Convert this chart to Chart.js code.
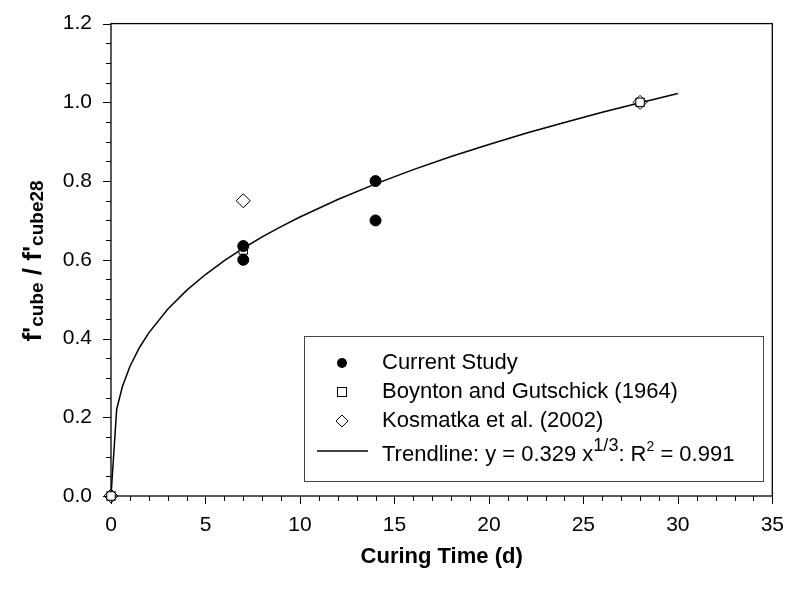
<!DOCTYPE html>
<html>
<head>
<meta charset="utf-8">
<script src="https://cdn.jsdelivr.net/npm/chart.js@4/dist/chart.umd.min.js"></script>
<style>
  html, body { margin: 0; padding: 0; background: #fff; }
  #wrap { width: 793px; height: 589px; }
</style>
</head>
<body>
<div id="wrap"><canvas id="strengthChart" width="793" height="589"></canvas></div>
<script>
// measured strength ratios
const currentX = [7, 7, 14, 14];
const currentY = [0.60, 0.635, 0.80, 0.70];
const boyntonX = [0, 7, 28];
const boyntonY = [0, 0.625, 1.0];
const kosmatkaX = [0, 7, 28];
const kosmatkaY = [0, 0.75, 1.0];

// trendline y = a * x^(1/3)
const trendCoef = 0.329;
const trendR2 = 0.991;
const trendX = [0, 0.3, 0.6, 1, 1.5, 2, 3, 4, 5, 6, 7, 8, 9, 10, 12, 14, 16, 18, 20, 22, 24, 26, 28, 30];

const legendNames = ['Current Study', 'Boynton and Gutschick (1964)', 'Kosmatka et al. (2002)'];

const FONT = '"Liberation Sans", Arial, sans-serif';

function pairs(xs, ys) {
    return xs.map((x, i) => ({ x: x, y: ys[i] }));
}

// frame, tick marks, axis titles and legend box
const decorations = {
    id: 'decorations',
    beforeDatasetsDraw(chart) {
        const ctx = chart.ctx;
        const a = chart.chartArea;
        const xs = chart.scales.x;
        const ys = chart.scales.y;
        ctx.save();
        ctx.strokeStyle = '#000';
        ctx.lineWidth = 1.3;
        ctx.strokeRect(a.left, a.top, a.right - a.left, a.bottom - a.top);

        ctx.lineWidth = 1;
        ctx.beginPath();
        for (let i = 0; i <= 35; i++) {
            const px = Math.round(xs.getPixelForValue(i)) + 0.5;
            const len = i % 5 === 0 ? 8 : 5;
            ctx.moveTo(px, a.bottom);
            ctx.lineTo(px, a.bottom + len);
        }
        for (let i = 0; i <= 24; i++) {
            const py = Math.round(ys.getPixelForValue(i * 0.05)) + 0.5;
            const len = i % 4 === 0 ? 8 : 5;
            ctx.moveTo(a.left, py);
            ctx.lineTo(a.left - len, py);
        }
        ctx.stroke();

        // x title
        ctx.fillStyle = '#000';
        ctx.font = 'bold 22px ' + FONT;
        ctx.textAlign = 'center';
        ctx.textBaseline = 'middle';
        ctx.fillText('Curing Time (d)', (a.left + a.right) / 2, 557);

        // y title with subscripts
        ctx.save();
        ctx.translate(41, 261);
        ctx.rotate(-Math.PI / 2);
        const parts = [
            { t: "f'", f: 'bold 26px ' + FONT, dy: 0 },
            { t: 'cube', f: 'bold 19px ' + FONT, dy: 2 },
            { t: " / f'", f: 'bold 26px ' + FONT, dy: 0 },
            { t: 'cube28', f: 'bold 19px ' + FONT, dy: 2 }
        ];
        let total = 0;
        parts.forEach(p => { ctx.font = p.f; p.w = ctx.measureText(p.t).width; total += p.w; });
        let cx = -total / 2;
        ctx.textAlign = 'left';
        ctx.textBaseline = 'alphabetic';
        parts.forEach(p => {
            ctx.font = p.f;
            ctx.fillText(p.t, cx, p.dy);
            cx += p.w;
        });
        ctx.restore();
        ctx.restore();
    },
    afterDraw(chart) {
        const ctx = chart.ctx;
        ctx.save();
        // legend
        const lx = 304, ly = 336, lw = 459, lh = 145;
        ctx.fillStyle = '#fff';
        ctx.fillRect(lx, ly, lw, lh);
        ctx.strokeStyle = '#444';
        ctx.lineWidth = 1;
        ctx.strokeRect(lx + 0.5, ly + 0.5, lw, lh);

        const markX = 342, textX = 382;
        const rows = [363, 392, 421, 455];
        ctx.font = '22px ' + FONT;
        ctx.textAlign = 'left';
        ctx.textBaseline = 'middle';
        ctx.fillStyle = '#000';
        ctx.strokeStyle = '#000';

        ctx.beginPath();
        ctx.arc(markX, rows[0], 5, 0, Math.PI * 2);
        ctx.fill();
        ctx.fillText(legendNames[0], textX, rows[0]);

        ctx.lineWidth = 1;
        ctx.strokeRect(markX - 4.5, rows[1] - 4.5, 9, 9);
        ctx.fillText(legendNames[1], textX, rows[1]);

        ctx.beginPath();
        ctx.moveTo(markX, rows[2] - 6);
        ctx.lineTo(markX + 6, rows[2]);
        ctx.lineTo(markX, rows[2] + 6);
        ctx.lineTo(markX - 6, rows[2]);
        ctx.closePath();
        ctx.stroke();
        ctx.fillText(legendNames[2], textX, rows[2]);

        ctx.lineWidth = 1.3;
        ctx.beginPath();
        ctx.moveTo(317, 451);
        ctx.lineTo(368, 451);
        ctx.stroke();

        // "Trendline: y = 0.329 x^1/3: R^2 = 0.991"
        let tx = textX;
        const seg = (s, font, dy) => {
            ctx.font = font;
            ctx.fillText(s, tx, rows[3] + dy);
            tx += ctx.measureText(s).width;
        };
        seg('Trendline: y = ' + trendCoef.toFixed(3) + ' x', '22px ' + FONT, 0);
        seg('1/3', '18px ' + FONT, -9);
        seg(': R', '22px ' + FONT, 0);
        seg('2', '14px ' + FONT, -8);
        seg(' = ' + trendR2.toFixed(3), '22px ' + FONT, 0);

        ctx.restore();
    }
};

const ctx = document.getElementById('strengthChart').getContext('2d');

new Chart(ctx, {
    type: 'scatter',
    data: {
        datasets: [
            {
                label: legendNames[0],
                data: pairs(currentX, currentY),
                pointStyle: 'circle',
                pointRadius: 5.5,
                backgroundColor: '#000',
                borderColor: '#000',
                borderWidth: 1,
                clip: false,
                order: 1
            },
            {
                label: legendNames[1],
                data: pairs(boyntonX, boyntonY),
                pointStyle: 'rect',
                pointRadius: 6,
                backgroundColor: '#fff',
                borderColor: '#000',
                borderWidth: 1,
                clip: false,
                order: 2
            },
            {
                label: legendNames[2],
                data: pairs(kosmatkaX, kosmatkaY),
                pointStyle: 'rectRot',
                pointRadius: 7,
                backgroundColor: 'rgba(255,255,255,0)',
                borderColor: '#000',
                borderWidth: 1,
                clip: false,
                order: 0
            },
            {
                label: 'Trendline',
                type: 'line',
                data: trendX.map(x => ({ x: x, y: trendCoef * Math.cbrt(x) })),
                borderColor: '#000',
                borderWidth: 1.5,
                pointRadius: 0,
                fill: false,
                tension: 0,
                order: 5
            }
        ]
    },
    options: {
        responsive: false,
        animation: false,
        layout: { padding: { left: 0, top: 16, right: 17, bottom: 0 } },
        plugins: {
            legend: { display: false },
            tooltip: { enabled: false }
        },
        scales: {
            x: {
                type: 'linear',
                min: 0,
                max: 35,
                grid: { display: false },
                border: { display: false },
                ticks: {
                    stepSize: 5,
                    color: '#000',
                    font: { family: FONT, size: 21 },
                    padding: 9,
                    maxRotation: 0
                },
                afterFit(scale) { scale.height = 93; }
            },
            y: {
                type: 'linear',
                min: 0,
                max: 1.2,
                grid: { display: false },
                border: { display: false },
                ticks: {
                    stepSize: 0.2,
                    color: '#000',
                    font: { family: FONT, size: 21 },
                    padding: 11,
                    callback: v => v.toFixed(1)
                },
                afterFit(scale) { scale.width = 111; }
            }
        }
    },
    plugins: [decorations]
});
</script>
</body>
</html>
